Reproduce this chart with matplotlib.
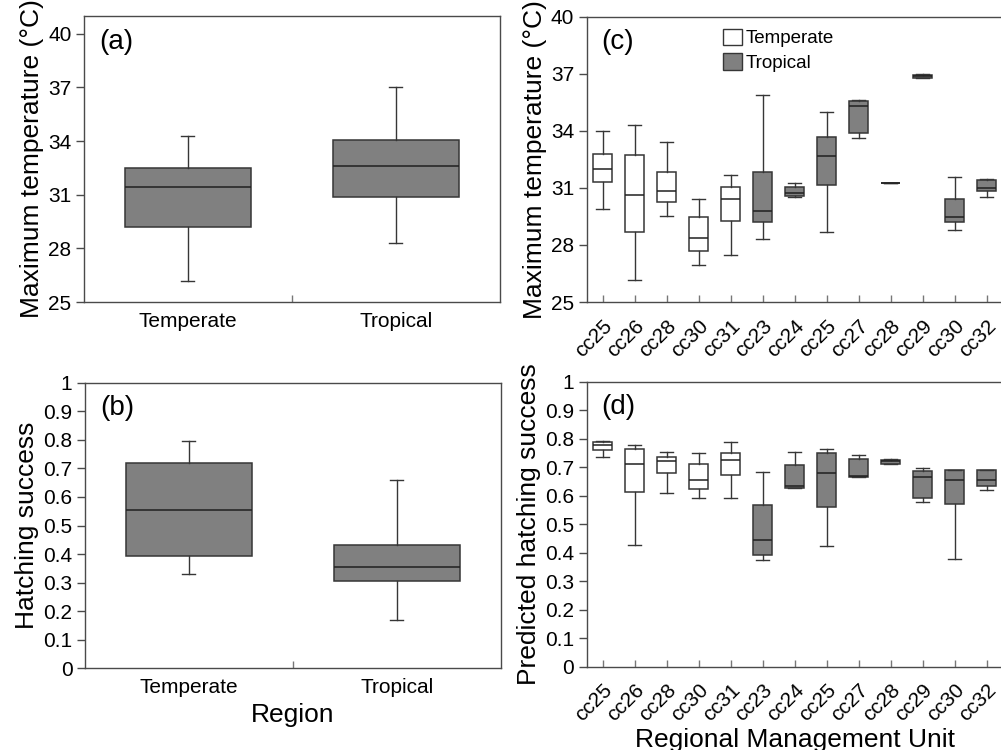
import numpy as np
import matplotlib
matplotlib.use('Agg')
import matplotlib.pyplot as plt
from matplotlib.patches import Patch

plt.rcParams['font.family'] = ['Liberation Sans', 'DejaVu Sans']

# Panel (a)/(b): region level summaries
regions = ['Temperate', 'Tropical']
tmax_lo = [26.2, 28.3]
tmax_q1 = [29.2, 30.85]
tmax_med = [31.45, 32.6]
tmax_q3 = [32.5, 34.05]
tmax_hi = [34.3, 37.0]

hs_lo = [0.33, 0.17]
hs_q1 = [0.393, 0.305]
hs_med = [0.553, 0.355]
hs_q3 = [0.72, 0.433]
hs_hi = [0.797, 0.66]

# Panel (c)/(d): regional management units
rmu = ['cc25', 'cc26', 'cc28', 'cc30', 'cc31', 'cc23', 'cc24',
       'cc25', 'cc27', 'cc28', 'cc29', 'cc30', 'cc32']
rmu_region = ['Temperate'] * 5 + ['Tropical'] * 8

rmu_tmax_lo = [29.9, 26.17, 29.5, 26.96, 27.47, 28.29, 30.5, 28.7, 33.6, 31.27, 36.78, 28.8, 30.5]
rmu_tmax_q1 = [31.29, 28.66, 30.26, 27.7, 29.24, 29.19, 30.57, 31.13, 33.9, 31.27, 36.78, 29.19, 30.82]
rmu_tmax_med = [31.98, 30.61, 30.85, 28.35, 30.42, 29.8, 30.71, 32.68, 35.29, 31.27, 36.9, 29.49, 30.99]
rmu_tmax_q3 = [32.76, 32.71, 31.85, 29.45, 31.06, 31.83, 31.03, 33.69, 35.57, 31.27, 36.95, 30.4, 31.4]
rmu_tmax_hi = [33.99, 34.29, 33.39, 30.42, 31.66, 35.87, 31.27, 34.99, 35.6, 31.27, 36.97, 31.55, 31.48]

rmu_hs_lo = [0.735, 0.426, 0.608, 0.593, 0.591, 0.373, 0.628, 0.424, 0.666, 0.711, 0.577, 0.379, 0.62]
rmu_hs_q1 = [0.760, 0.612, 0.678, 0.623, 0.671, 0.392, 0.628, 0.559, 0.666, 0.711, 0.592, 0.571, 0.634]
rmu_hs_med = [0.778, 0.711, 0.720, 0.654, 0.725, 0.446, 0.634, 0.681, 0.669, 0.720, 0.664, 0.655, 0.655]
rmu_hs_q3 = [0.787, 0.763, 0.736, 0.710, 0.751, 0.566, 0.709, 0.749, 0.729, 0.725, 0.688, 0.690, 0.690]
rmu_hs_hi = [0.791, 0.778, 0.754, 0.751, 0.789, 0.682, 0.752, 0.765, 0.743, 0.727, 0.698, 0.691, 0.690]

GREY = '#808080'
EDGE = '#363636'
colour = {'Temperate': 'white', 'Tropical': GREY}
hs_ticklabels = ['0', '0.1', '0.2', '0.3', '0.4', '0.5', '0.6', '0.7', '0.8', '0.9', '1']


def make_stats(lo, q1, med, q3, hi):
    return [dict(whislo=a, q1=b, med=c, q3=d, whishi=e, fliers=[])
            for a, b, c, d, e in zip(lo, q1, med, q3, hi)]


def draw_boxes(ax, stats, fills, width, capw):
    pos = np.arange(1, len(stats) + 1)
    bp = ax.bxp(stats, positions=pos, widths=width, capwidths=capw,
                patch_artist=True, showfliers=False,
                boxprops=dict(edgecolor=EDGE, linewidth=1.1),
                medianprops=dict(color='#202020', linewidth=1.1),
                whiskerprops=dict(color=EDGE, linewidth=1.0),
                capprops=dict(color=EDGE, linewidth=1.0))
    for patch, fc in zip(bp['boxes'], fills):
        patch.set_facecolor(fc)
    return bp


def style_axis(ax, letter):
    for sp in ax.spines.values():
        sp.set_color('#4a4a4a')
        sp.set_linewidth(1.0)
    ax.tick_params(axis='y', direction='out', length=6, width=1, color='#4a4a4a',
                   labelsize=15, pad=3)
    ax.tick_params(axis='x', which='both', direction='in', length=5, width=1,
                   color='#777777', labelsize=15, pad=7)
    ax.text(0.036, 0.91, letter, transform=ax.transAxes, fontsize=20,
            va='center', ha='left')


fig = plt.figure(figsize=(10.01, 7.5), dpi=100)
ax_a = fig.add_axes([0.0839, 0.5973, 0.4156, 0.3814])
ax_b = fig.add_axes([0.0849, 0.1089, 0.4156, 0.3808])
ax_c = fig.add_axes([0.5861, 0.5973, 0.4156, 0.3804])
ax_d = fig.add_axes([0.5861, 0.1111, 0.4156, 0.3800])

# (a)
draw_boxes(ax_a, make_stats(tmax_lo, tmax_q1, tmax_med, tmax_q3, tmax_hi),
           [GREY, GREY], 0.61, 0.0625)
ax_a.set_xlim(0.5, 2.5)
ax_a.set_ylim(25, 41)
ax_a.set_yticks([25, 28, 31, 34, 37, 40])
ax_a.set_xticks([1, 2])
ax_a.set_xticklabels(regions)
ax_a.set_xticks([1.5], minor=True)
ax_a.set_ylabel('Maximum temperature (°C)', fontsize=19, labelpad=3)
style_axis(ax_a, '(a)')
ax_a.tick_params(axis='x', which='major', length=0)

# (b)
draw_boxes(ax_b, make_stats(hs_lo, hs_q1, hs_med, hs_q3, hs_hi),
           [GREY, GREY], 0.61, 0.0625)
ax_b.set_xlim(0.5, 2.5)
ax_b.set_ylim(0, 1)
ax_b.set_yticks(np.round(np.arange(0, 1.01, 0.1), 1))
ax_b.set_yticklabels(hs_ticklabels)
ax_b.set_xticks([1, 2])
ax_b.set_xticklabels(regions)
ax_b.set_xticks([1.5], minor=True)
ax_b.set_ylabel('Hatching success', fontsize=19, labelpad=3)
ax_b.set_xlabel('Region', fontsize=19, labelpad=4)
style_axis(ax_b, '(b)')
ax_b.tick_params(axis='x', which='major', length=0)

# (c)
rmu_fill = [colour[r] for r in rmu_region]
draw_boxes(ax_c, make_stats(rmu_tmax_lo, rmu_tmax_q1, rmu_tmax_med, rmu_tmax_q3, rmu_tmax_hi),
           rmu_fill, 0.6, 0.4)
ax_c.set_xlim(0.5, len(rmu) + 0.5)
ax_c.set_ylim(25, 40)
ax_c.set_yticks([25, 28, 31, 34, 37, 40])
ax_c.set_xticks(np.arange(1, len(rmu) + 1))
ax_c.set_xticklabels(rmu, rotation=45, ha='right', va='top', rotation_mode='anchor')
ax_c.set_ylabel('Maximum temperature (°C)', fontsize=19, labelpad=3)
style_axis(ax_c, '(c)')
ax_c.tick_params(axis='x', pad=10)
ax_c.legend(handles=[Patch(facecolor='white', edgecolor=EDGE, label='Temperate'),
                     Patch(facecolor=GREY, edgecolor=EDGE, label='Tropical')],
            loc='upper left', bbox_to_anchor=(0.31, 0.985), frameon=False,
            fontsize=13.5, handlelength=1.0, handleheight=1.0, handletextpad=0.2,
            labelspacing=0.3, borderaxespad=0)

# (d)
draw_boxes(ax_d, make_stats(rmu_hs_lo, rmu_hs_q1, rmu_hs_med, rmu_hs_q3, rmu_hs_hi),
           rmu_fill, 0.6, 0.4)
ax_d.set_xlim(0.5, len(rmu) + 0.5)
ax_d.set_ylim(0, 1)
ax_d.set_yticks(np.round(np.arange(0, 1.01, 0.1), 1))
ax_d.set_yticklabels(hs_ticklabels)
ax_d.set_xticks(np.arange(1, len(rmu) + 1))
ax_d.set_xticklabels(rmu, rotation=45, ha='right', va='top', rotation_mode='anchor')
ax_d.set_ylabel('Predicted hatching success', fontsize=19, labelpad=3)
ax_d.set_xlabel('Regional Management Unit', fontsize=19, labelpad=2)
style_axis(ax_d, '(d)')
ax_d.tick_params(axis='x', pad=10)

fig.savefig('out.png', dpi=100)
